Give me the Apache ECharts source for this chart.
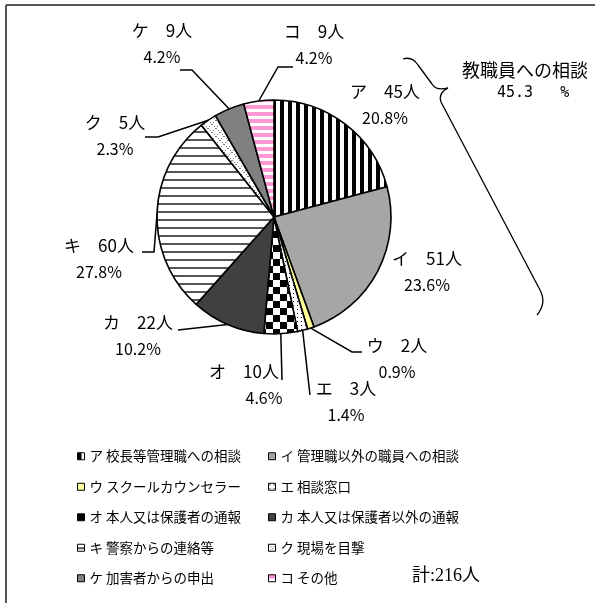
<!DOCTYPE html>
<html><head><meta charset="utf-8">
<script src="https://cdn.jsdelivr.net/npm/echarts@6/dist/echarts.min.js"></script>
<style>html,body{margin:0;padding:0;background:#fff}#c{width:595px;height:603px}</style>
</head><body><div id="c"></div>
<script>
// ---- data ----
const letters = ['ア','イ','ウ','エ','オ','カ','キ','ク','ケ','コ'];
const categories = ['校長等管理職への相談','管理職以外の職員への相談','スクールカウンセラー','相談窓口','本人又は保護者の通報','本人又は保護者以外の通報','警察からの連絡等','現場を目撃','加害者からの申出','その他'];
const counts = [45, 51, 2, 3, 10, 22, 60, 5, 9, 9];
const groupLabel = '教職員への相談';
const groupPercentText = '45.3   %';
const unit = '人';

// ---- styles ----
const FONT = '"Noto Sans CJK JP","Noto Sans",sans-serif';
function pat(w, h, draw) {
  const c = document.createElement('canvas'); c.width = w; c.height = h;
  const g = c.getContext('2d'); g.fillStyle = '#fff'; g.fillRect(0, 0, w, h); draw(g);
  return { image: c, repeat: 'repeat' };
}
const fills = [
  pat(8, 8, g => { g.fillStyle = '#000'; g.fillRect(0, 0, 4, 8); }),
  '#a6a6a6',
  '#ffff99',
  pat(4, 4, g => { g.fillStyle = '#000'; g.fillRect(1, 1, 1, 1); }),
  pat(14, 14, g => { g.fillStyle = '#000'; g.fillRect(0, 0, 7, 7); g.fillRect(7, 7, 7, 7); }),
  '#404040',
  pat(8, 8, g => { g.fillStyle = '#555'; g.fillRect(0, 3, 8, 2); }),
  pat(8, 8, g => { g.fillStyle = '#7a7a7a'; for (let i = 0; i < 8; i += 2) { g.fillRect(i, i, 1, 1); g.fillRect(7 - i, i, 1, 1); } }),
  '#808080',
  pat(1, 7, g => { g.fillStyle = '#ff99d6'; g.fillRect(0, 0, 1, 4); })
];

// label layout (centre of two-line label block, and leader line route after slice anchor)
const LBL = [
  { x: 385, y: 105, line: null },
  { x: 427, y: 272, line: null },
  { x: 397, y: 359, line: [[352, 352], [362, 352]] },
  { x: 346, y: 402, line: [[310, 395]] },
  { x: 244, y: 385, line: [[282, 380]], shift: true },
  { x: 138, y: 336, line: [[178, 330]] },
  { x: 99,  y: 259, line: [[154, 252], [142, 252]] },
  { x: 115, y: 136, line: [[158, 137], [145, 137]] },
  { x: 162, y: 44,  line: [[192, 70], [180, 70]] },
  { x: 314, y: 45,  line: [[278, 67], [293, 67]] }
];
const CX = 274, CY = 217, R = 117;
const total = counts.reduce((a, b) => a + b, 0);
function anchorOf(i) {
  let cum = 0; for (let k = 0; k < i; k++) cum += counts[k];
  const a = (cum + counts[i] / 2) / total * 2 * Math.PI;
  return [CX + R * Math.sin(a), CY - R * Math.cos(a)];
}

const names = letters.map((l, i) => l + ' ' + categories[i]);
const data = names.map((n, i) => ({
  name: n, value: counts[i],
  itemStyle: { color: fills[i] },
  labelLine: { show: !!LBL[i].line }
}));

const braceStyle = { fill: 'none', stroke: '#000', lineWidth: 1.3 };
function bz(x1, y1, cx, cy, x2, y2) { return { type: 'bezierCurve', shape: { x1, y1, cpx1: cx, cpy1: cy, x2, y2 }, style: braceStyle }; }
function ln(x1, y1, x2, y2, st) { return { type: 'line', shape: { x1, y1, x2, y2 }, style: st || braceStyle }; }

const chart = echarts.init(document.getElementById('c'), null, { renderer: 'canvas' });
const legendBase = {
  orient: 'vertical', icon: 'rect', itemWidth: 7, itemHeight: 7, itemGap: 14, padding: 0,
  selectedMode: false,
  itemStyle: { borderColor: '#000', borderWidth: 1 },
  textStyle: { fontSize: 13.5, lineHeight: 16.5, color: '#000', fontFamily: FONT }
};
chart.setOption({
  animation: false,
  backgroundColor: '#fff',
  legend: [
    Object.assign({}, legendBase, { left: 77, top: 448, data: names.filter((_, i) => i % 2 === 0) }),
    Object.assign({}, legendBase, { left: 268, top: 448, data: names.filter((_, i) => i % 2 === 1) })
  ],
  graphic: [
    ln(6, 5, 595, 5, { stroke: '#555', lineWidth: 2 }),
    ln(6, 5, 6, 603, { stroke: '#555', lineWidth: 2 }),
    bz(403, 59, 412, 56, 418, 65),
    ln(418, 65, 432, 84),
    bz(432, 84, 436, 91, 448, 88),
    bz(448, 88, 438, 93, 441, 102),
    ln(441, 102, 540, 290),
    bz(540, 290, 547, 303, 537, 315),
    { type: 'text', left: 462, top: 61, style: { text: groupLabel, font: '18px ' + FONT, fill: '#000' } },
    { type: 'text', left: 497, top: 86, style: { text: groupPercentText, font: '15px "DejaVu Sans Mono",monospace', fill: '#000' } },
    { type: 'text', left: 412, top: 567, style: { text: '計:' + total + unit, font: '18px "Liberation Serif","Noto Sans CJK JP",serif', fill: '#000' } }
  ],
  series: [{
    type: 'pie',
    center: [CX, CY], radius: R,
    startAngle: 90, clockwise: true,
    avoidLabelOverlap: false,
    percentPrecision: 1,
    emphasis: { disabled: true },
    itemStyle: { borderColor: '#000', borderWidth: 1.6 },
    label: {
      show: true, position: 'outer', alignTo: 'none', color: '#000',
      formatter: p => '{a|' + letters[p.dataIndex] + '　' + p.value + unit + '}\n{' + (LBL[p.dataIndex].shift ? 'c' : 'b') + '|' + p.percent.toFixed(1) + '%}',
      rich: {
        a: { fontSize: 17, lineHeight: 26, fontFamily: FONT, color: '#000' },
        b: { fontSize: 16, lineHeight: 26, fontFamily: FONT, color: '#000' },
        c: { fontSize: 16, lineHeight: 26, fontFamily: FONT, color: '#000', padding: [0, 0, 0, 40] }
      }
    },
    labelLine: { show: true, lineStyle: { color: '#000', width: 1.5 } },
    labelLayout: function (params) {
      const i = params.dataIndex, L = LBL[i];
      const out = { x: L.x, y: L.y, align: 'center', verticalAlign: 'middle' };
      if (L.line) {
        const a = (params.labelLinePoints && params.labelLinePoints[0]) || anchorOf(i);
        const pts = [a].concat(L.line);
        while (pts.length < 3) pts.push(pts[pts.length - 1]);
        out.labelLinePoints = pts;
      }
      return out;
    },
    data: data
  }]
});
</script></body></html>
